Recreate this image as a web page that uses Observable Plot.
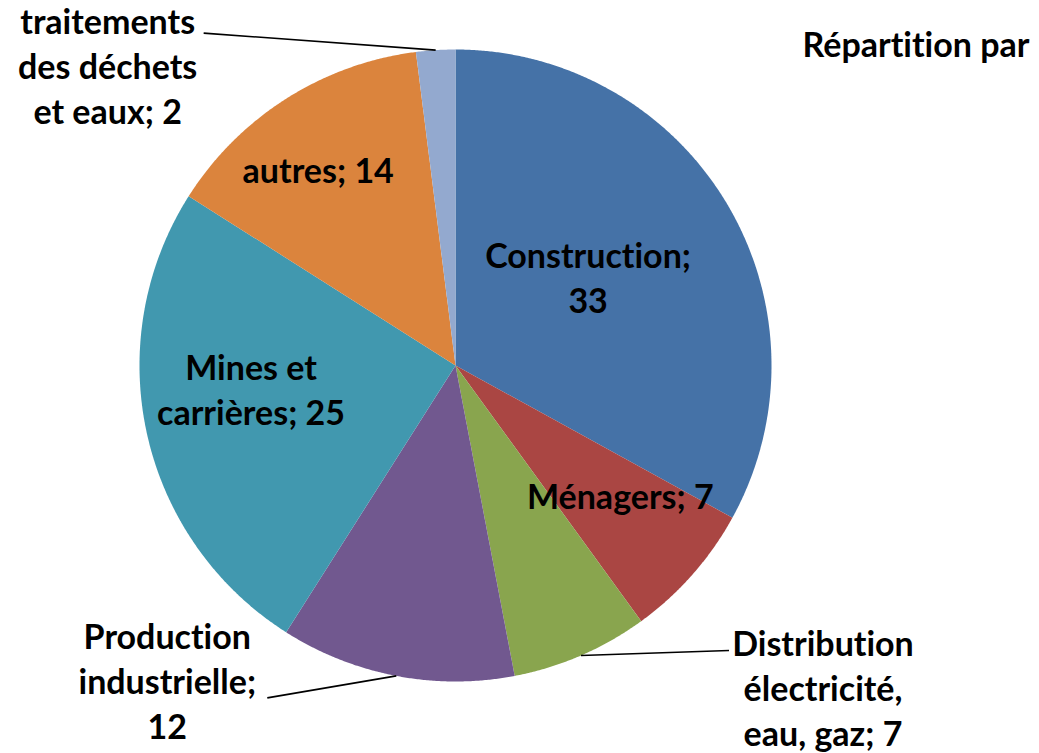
<!DOCTYPE html>
<html>
<head>
<meta charset="utf-8">
<script src="https://cdn.jsdelivr.net/npm/d3@7"></script>
<script src="https://cdn.jsdelivr.net/npm/@observablehq/plot@0.6"></script>
<style>
  html, body { margin: 0; padding: 0; background: #ffffff; }
  #chart svg { display: block; }
  #chart svg text { font-variant-ligatures: none; font-feature-settings: "liga" 0, "clig" 0; }
</style>
</head>
<body>
<div id="chart"></div>
<script>
// ---- data ----
const categories = [
  "Construction",
  "Ménagers",
  "Distribution électricité, eau, gaz",
  "Production industrielle",
  "Mines et carrières",
  "autres",
  "traitements des déchets et eaux"
];
const values = [33, 7, 7, 12, 25, 14, 2];
// wrapped label text (category name; value)
const labelLines = [
  ["Construction;", "33"],
  ["Ménagers; 7"],
  ["Distribution", "électricité,", "eau, gaz; 7"],
  ["Production", "industrielle;", "12"],
  ["Mines et", "carrières; 25"],
  ["autres; 14"],
  ["traitements", "des déchets", "et eaux; 2"]
];
const colors = ["#4572A7", "#AA4643", "#89A54E", "#71588F", "#4198AF", "#DB843D", "#93A9CF"];
const title = "Répartition par";

// ---- layout (styling) ----
const W = 1039, H = 753;
const margin = {left: 139, right: 268, top: 49, bottom: 72};
const R = (W - margin.left - margin.right) / 2; // px per data unit
// k: anchor radius factor at mid-angle; ox, oy: text offset in px; lx, ly: leader end offset in px
const layout = [
  {k: 0.55, ox: -17, oy: -1},
  {k: 0.67, ox: 6, oy: -11},
  {k: 1, ox: 242, oy: 31, lx: 148, ly: -5},
  {k: 1, ox: -229, oy: 4, lx: -129, ly: 22},
  {k: 0.65, ox: -4, oy: -22},
  {k: 0.74, ox: -12, oy: 1},
  {k: 1, ox: -328, oy: 14, lx: -232, ly: -17}
];
const FONT = "Lato, 'Open Sans', sans-serif";
const FS = 34;

// ---- geometry from data ----
const pie = d3.pie().sort(null).value(d => d.value)
  (categories.map((c, i) => ({category: c, value: values[i], i})));

const polar = (r, a) => [r * Math.sin(a), r * Math.cos(a)];

const slicePts = [];
for (const p of pie) {
  slicePts.push({category: p.data.category, x: 0, y: 0});
  const n = Math.max(2, Math.ceil((p.endAngle - p.startAngle) / 0.005));
  for (let j = 0; j <= n; j++) {
    const a = p.startAngle + (p.endAngle - p.startAngle) * j / n;
    const [x, y] = polar(1, a);
    slicePts.push({category: p.data.category, x, y});
  }
  slicePts.push({category: p.data.category, x: 0, y: 0});
}

const labels = pie.map((p, i) => {
  const mid = (p.startAngle + p.endAngle) / 2;
  const L = layout[i];
  const [ax, ay] = polar(L.k, mid);
  return {
    category: p.data.category,
    text: labelLines[i].join("\n"),
    x: ax + L.ox / R,
    y: ay - L.oy / R
  };
});

const leaders = pie.map((p, i) => {
  const L = layout[i];
  if (L.lx === undefined) return null;
  const mid = (p.startAngle + p.endAngle) / 2;
  const [ax, ay] = polar(1, mid);
  return {x1: ax, y1: ay, x2: ax + L.lx / R, y2: ay - L.ly / R};
}).filter(Boolean);

const chart = Plot.plot({
  width: W,
  height: H,
  marginLeft: margin.left,
  marginRight: margin.right,
  marginTop: margin.top,
  marginBottom: margin.bottom,
  style: {background: "#ffffff", overflow: "visible"},
  x: {domain: [-1, 1], axis: null},
  y: {domain: [-1, 1], axis: null},
  color: {domain: categories, range: colors},
  marks: [
    Plot.line(slicePts, {x: "x", y: "y", z: "category", fill: "category", stroke: "none", curve: "linear-closed"}),
    Plot.link(leaders, {x1: "x1", y1: "y1", x2: "x2", y2: "y2", stroke: "#000", strokeWidth: 1.6}),
    Plot.text(labels, {
      x: "x", y: "y", text: "text",
      fill: "#000", fontWeight: "bold", fontSize: FS, fontFamily: FONT,
      lineAnchor: "middle", lineHeight: 45 / FS, textAnchor: "middle"
    }),
    Plot.text([title], {
      frameAnchor: "top-left", text: d => d, dx: 802 - margin.left, dy: 46 - margin.top,
      fill: "#000", fontWeight: "bold", fontSize: FS, fontFamily: FONT,
      textAnchor: "start", lineAnchor: "middle"
    })
  ]
});

document.getElementById("chart").appendChild(chart);
</script>
</body>
</html>
